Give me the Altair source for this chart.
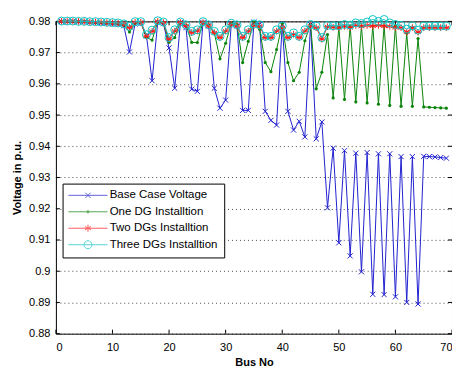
import altair as alt
import pandas as pd

# ---------------- data ----------------
bus = list(range(1, 70))

base_case = [
    0.9800, 0.9800, 0.9800, 0.9799, 0.9799, 0.9797, 0.9796, 0.9795, 0.9794, 0.9792,
    0.9790, 0.9786, 0.9702, 0.9792, 0.9795, 0.9755, 0.9610, 0.9797, 0.9793, 0.9715,
    0.9586, 0.9796, 0.9780, 0.9583, 0.9576, 0.9796, 0.9786, 0.9586, 0.9522, 0.9548,
    0.9792, 0.9786, 0.9515, 0.9515, 0.9797, 0.9790, 0.9512, 0.9483, 0.9468, 0.9790,
    0.9512, 0.9452, 0.9480, 0.9430, 0.9790, 0.9424, 0.9478, 0.9203, 0.9394, 0.9091,
    0.9386, 0.9049, 0.9378, 0.8998, 0.9380, 0.8926, 0.9376, 0.8925, 0.9376, 0.8918,
    0.9367, 0.8900, 0.9367, 0.8895, 0.9368, 0.9367, 0.9366, 0.9364, 0.9362,
]

one_dg = [
    0.9800, 0.9800, 0.9800, 0.9799, 0.9799, 0.9798, 0.9797, 0.9796, 0.9795, 0.9794,
    0.9793, 0.9788, 0.9766, 0.9795, 0.9797, 0.9748, 0.9740, 0.9799, 0.9796, 0.9733,
    0.9748, 0.9798, 0.9788, 0.9733, 0.9732, 0.9798, 0.9789, 0.9763, 0.9680, 0.9730,
    0.9795, 0.9790, 0.9668, 0.9736, 0.9798, 0.9775, 0.9668, 0.9639, 0.9710, 0.9792,
    0.9668, 0.9610, 0.9637, 0.9738, 0.9790, 0.9584, 0.9637, 0.9758, 0.9555, 0.9782,
    0.9550, 0.9785, 0.9542, 0.9786, 0.9539, 0.9786, 0.9535, 0.9786, 0.9531, 0.9785,
    0.9528, 0.9762, 0.9528, 0.9745, 0.9526, 0.9525, 0.9524, 0.9523, 0.9522,
]

two_dg = [
    0.9800, 0.9800, 0.9800, 0.9800, 0.9799, 0.9798, 0.9798, 0.9797, 0.9796, 0.9795,
    0.9794, 0.9790, 0.9780, 0.9797, 0.9797, 0.9752, 0.9768, 0.9800, 0.9796, 0.9743,
    0.9769, 0.9796, 0.9785, 0.9764, 0.9769, 0.9796, 0.9785, 0.9764, 0.9748, 0.9769,
    0.9790, 0.9785, 0.9748, 0.9769, 0.9787, 0.9785, 0.9748, 0.9748, 0.9769, 0.9780,
    0.9748, 0.9759, 0.9748, 0.9769, 0.9785, 0.9780, 0.9743, 0.9783, 0.9781, 0.9780,
    0.9784, 0.9780, 0.9787, 0.9784, 0.9787, 0.9785, 0.9787, 0.9785, 0.9784, 0.9780,
    0.9780, 0.9766, 0.9780, 0.9765, 0.9780, 0.9780, 0.9780, 0.9780, 0.9780,
]

three_dg = [
    0.9801, 0.9801, 0.9801, 0.9800, 0.9800, 0.9799, 0.9799, 0.9798, 0.9797, 0.9796,
    0.9795, 0.9792, 0.9784, 0.9799, 0.9799, 0.9757, 0.9772, 0.9802, 0.9798, 0.9748,
    0.9773, 0.9798, 0.9789, 0.9768, 0.9773, 0.9799, 0.9789, 0.9768, 0.9752, 0.9773,
    0.9794, 0.9789, 0.9752, 0.9773, 0.9792, 0.9789, 0.9752, 0.9752, 0.9773, 0.9785,
    0.9752, 0.9763, 0.9752, 0.9773, 0.9790, 0.9785, 0.9748, 0.9787, 0.9786, 0.9786,
    0.9790, 0.9788, 0.9795, 0.9793, 0.9798, 0.9806, 0.9800, 0.9806, 0.9795, 0.9790,
    0.9787, 0.9775, 0.9786, 0.9772, 0.9785, 0.9785, 0.9785, 0.9785, 0.9785,
]

series_names = [
    "Base Case Voltage",
    "One DG Installtion",
    "Two DGs Installtion",
    "Three DGs Installtion",
]
series_values = [base_case, one_dg, two_dg, three_dg]

x_ticks = [0, 10, 20, 30, 40, 50, 60, 70]
y_ticks = [0.88, 0.89, 0.90, 0.91, 0.92, 0.93, 0.94, 0.95, 0.96, 0.97, 0.98]

# ---------------- styles ----------------
colors = ["#2222d0", "#0a840a", "#ff1a1a", "#10c4c4"]

X_PATH = "M-1,-1L1,1M-1,1L1,-1"
STAR_PATH = "M0,-1L0,1M-0.87,-0.5L0.87,0.5M-0.87,0.5L0.87,-0.5M-1,0L1,0"

marker_shapes = [X_PATH, "circle", STAR_PATH, "circle"]
marker_sizes = [26, 10, 44, 64]
marker_filled = [False, True, False, False]

LINE = "M-4.9,0L4.9,0"
legend_paths = [
    LINE + "M-0.65,-0.65L0.65,0.65M-0.65,0.65L0.65,-0.65",
    LINE + "M0.3,0A0.3,0.3 0 1,1 -0.3,0A0.3,0.3 0 1,1 0.3,0",
    LINE + "M0,-0.9L0,0.9M-0.78,-0.45L0.78,0.45M-0.78,0.45L0.78,-0.45",
    LINE + "M1,0A1,1 0 1,1 -1,0A1,1 0 1,1 1,0",
]

W, H = 397, 313
FONT = "Liberation Sans"

rows = []
for name, vals in zip(series_names, series_values):
    for b, v in zip(bus, vals):
        rows.append({"bus": b, "v": v, "series": name})
df = pd.DataFrame(rows)

xscale = alt.Scale(domain=[0, 70], nice=False, zero=False)
yscale = alt.Scale(domain=[0.88, 0.98], nice=False, zero=False)

xaxis = alt.Axis(values=x_ticks, grid=False, ticks=False, domain=False,
                 labelPadding=8, labelFontSize=11, labelFont=FONT, labelColor="black",
                 title="Bus No", titleFont=FONT, titleFontSize=11, titleFontWeight="bold",
                 titleColor="black", titlePadding=4)
yaxis = alt.Axis(values=y_ticks, format=".2~f", grid=True, gridDash=[1, 3],
                 gridColor="#222", gridOpacity=0.8, ticks=False, domain=False,
                 labelPadding=6, labelFontSize=11, labelFont=FONT, labelColor="black",
                 title="Voltage in p.u.", titleFont=FONT, titleFontSize=11,
                 titleFontWeight="bold", titleColor="black", titlePadding=6)


def X(field):
    return alt.X(field, scale=xscale, axis=xaxis)


def Y(field):
    return alt.Y(field, scale=yscale, axis=yaxis)


ytick_df = pd.DataFrame({"t": y_ticks})
xtick_df = pd.DataFrame({"t": x_ticks})

layers = []
# inward ticks on all four sides
layers.append(alt.Chart(ytick_df).mark_rule(color="black", strokeWidth=1).encode(
    y=Y("t:Q"), x=alt.value(0), x2=alt.value(4)))
layers.append(alt.Chart(ytick_df).mark_rule(color="black", strokeWidth=1).encode(
    y=Y("t:Q"), x=alt.value(W - 4), x2=alt.value(W)))
layers.append(alt.Chart(xtick_df).mark_rule(color="black", strokeWidth=1).encode(
    x=X("t:Q"), y=alt.value(H - 4), y2=alt.value(H)))
layers.append(alt.Chart(xtick_df).mark_rule(color="black", strokeWidth=1).encode(
    x=X("t:Q"), y=alt.value(0), y2=alt.value(4)))

for i, name in enumerate(series_names):
    sub = alt.Chart(df).transform_filter(alt.datum.series == name)
    layers.append(sub.mark_line(color=colors[i], strokeWidth=1).encode(
        x=X("bus:Q"), y=Y("v:Q")))
    layers.append(sub.mark_point(shape=marker_shapes[i], size=marker_sizes[i],
                                 filled=marker_filled[i], color=colors[i],
                                 strokeWidth=1, opacity=1).encode(
        x=X("bus:Q"), y=Y("v:Q")))

leg = alt.Legend(title=None, orient="none", legendX=6.7, legendY=162.6,
                 strokeColor="black", fillColor="white", padding=6, cornerRadius=0,
                 symbolSize=64, symbolStrokeWidth=1, symbolOffset=13.7, labelOffset=16,
                 labelFontSize=11.5, labelFont=FONT, labelColor="black", rowPadding=3.5)

layers.append(alt.Chart(df).mark_point(filled=False, clip=True, strokeWidth=1).encode(
    x=alt.value(-300), y=alt.value(-300),
    color=alt.Color("series:N", scale=alt.Scale(domain=series_names, range=colors), legend=leg),
    shape=alt.Shape("series:N", scale=alt.Scale(domain=series_names, range=legend_paths), legend=leg),
))

chart = alt.layer(*layers).properties(
    width=W, height=H,
    autosize=alt.AutoSizeParams(type="none"),
    padding={"left": 48, "top": 13, "right": 0, "bottom": 33},
    background="white",
).configure(font=FONT).configure_view(stroke="black", strokeWidth=1)

chart.save("out.html", embed_options={"renderer": "svg", "actions": False})
